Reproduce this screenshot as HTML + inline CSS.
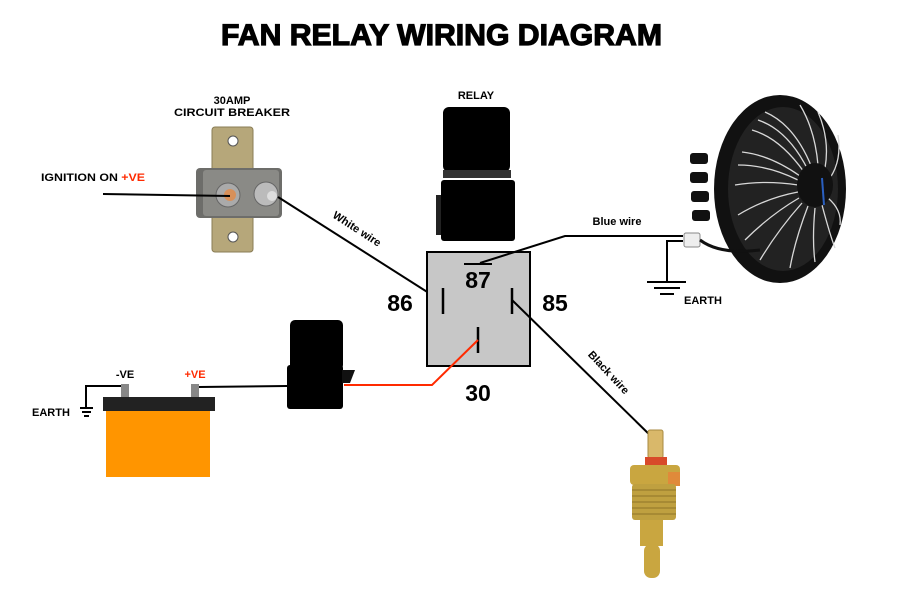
<!DOCTYPE html>
<html><head><meta charset="utf-8"><style>
html,body{margin:0;padding:0;background:#fff;}
svg{display:block;}
text{font-family:"Liberation Sans",sans-serif;font-weight:bold;}
</style></head><body>
<svg width="900" height="600" viewBox="0 0 900 600" xmlns="http://www.w3.org/2000/svg">
<rect width="900" height="600" fill="#fff"/>
<text x="221" y="45" font-size="30" textLength="441" lengthAdjust="spacingAndGlyphs" stroke="#000" stroke-width="1.2">FAN RELAY WIRING DIAGRAM</text>

<!-- circuit breaker -->
<text x="232" y="104" font-size="11" text-anchor="middle">30AMP</text>
<text x="232" y="116" font-size="11" text-anchor="middle" textLength="116" lengthAdjust="spacingAndGlyphs">CIRCUIT BREAKER</text>
<rect x="212" y="127" width="41" height="125" rx="3" fill="#b6a77a" stroke="#8a7d55"/>
<circle cx="233" cy="141" r="5" fill="#fff" stroke="#555"/>
<circle cx="233" cy="237" r="5" fill="#fff" stroke="#555"/>
<rect x="196" y="168" width="86" height="50" rx="4" fill="#6d6d6a"/>
<rect x="203" y="170" width="76" height="46" rx="3" fill="#8a8a86"/>
<circle cx="228" cy="195" r="12" fill="#aaa" stroke="#666"/>
<circle cx="230" cy="195" r="6" fill="#d8905a"/>
<circle cx="266" cy="194" r="12" fill="#bbb" stroke="#666"/>
<circle cx="272" cy="196" r="5" fill="#ddd"/>

<text x="41" y="181" font-size="11" textLength="104" lengthAdjust="spacingAndGlyphs">IGNITION ON <tspan fill="#ff2a00">+VE</tspan></text>
<line x1="103" y1="194" x2="230" y2="196" stroke="#000" stroke-width="2"/>

<!-- white wire -->
<line x1="278" y1="197" x2="443" y2="302" stroke="#000" stroke-width="2"/>
<text x="355" y="232" font-size="11" transform="rotate(33 355 232)" text-anchor="middle">White wire</text>

<!-- relay -->
<text x="476" y="99" font-size="11" text-anchor="middle">RELAY</text>
<rect x="443" y="107" width="67" height="65" rx="6" fill="#000"/>
<rect x="443" y="170" width="68" height="8" fill="#333"/>
<rect x="441" y="180" width="74" height="61" rx="3" fill="#000"/>
<rect x="436" y="195" width="5" height="40" fill="#222"/>

<rect x="427" y="252" width="103" height="114" fill="#c7c7c7" stroke="#000" stroke-width="2"/>
<line x1="443" y1="288" x2="443" y2="314" stroke="#000" stroke-width="2.5"/>
<line x1="512" y1="288" x2="512" y2="314" stroke="#000" stroke-width="2.5"/>
<line x1="478" y1="327" x2="478" y2="353" stroke="#000" stroke-width="2.5"/>
<line x1="464" y1="264" x2="492" y2="264" stroke="#000" stroke-width="2"/>
<text x="478" y="288" font-size="23" text-anchor="middle">87</text>
<text x="400" y="311" font-size="23" text-anchor="middle">86</text>
<text x="555" y="311" font-size="23" text-anchor="middle">85</text>
<text x="478" y="401" font-size="23" text-anchor="middle">30</text>

<!-- blue wire -->
<polyline points="480,263 565,236 683,236" fill="none" stroke="#000" stroke-width="2"/>
<text x="617" y="225" font-size="11" text-anchor="middle">Blue wire</text>
<polyline points="683,241 667,241 667,282" fill="none" stroke="#000" stroke-width="2"/>
<line x1="647" y1="282" x2="686" y2="282" stroke="#000" stroke-width="2"/>
<line x1="654" y1="288" x2="680" y2="288" stroke="#000" stroke-width="2"/>
<line x1="660" y1="294" x2="674" y2="294" stroke="#000" stroke-width="2"/>
<text x="684" y="304" font-size="11">EARTH</text>

<!-- fan -->
<ellipse cx="780" cy="189" rx="66" ry="94" fill="#111"/>
<ellipse cx="783" cy="189" rx="55" ry="82" fill="#222"/>
<g stroke="#d8d8d8" stroke-width="1.3" fill="none">
<path d="M812 168 Q795 125 765 112"/><path d="M808 170 Q788 130 758 120"/><path d="M804 172 Q780 138 752 130"/>
<path d="M800 176 Q770 155 742 152"/><path d="M798 180 Q768 165 738 165"/><path d="M798 185 Q765 180 735 185"/>
<path d="M798 192 Q766 198 738 215"/><path d="M799 198 Q770 215 745 240"/><path d="M802 203 Q778 230 760 260"/>
<path d="M808 206 Q795 240 790 268"/><path d="M815 208 Q812 240 815 262"/><path d="M822 205 Q830 235 835 248"/>
<path d="M828 198 Q842 210 840 225"/><path d="M830 178 Q842 160 838 135"/><path d="M825 168 Q830 140 818 112"/>
<path d="M818 165 Q815 130 800 105"/>
</g>
<ellipse cx="815" cy="185" rx="18" ry="22" fill="#111"/>
<path d="M822 178 L824 205" stroke="#2a5fc0" stroke-width="2"/>
<rect x="690" y="153" width="18" height="11" rx="3" fill="#111"/>
<rect x="690" y="172" width="18" height="11" rx="3" fill="#111"/>
<rect x="691" y="191" width="18" height="11" rx="3" fill="#111"/>
<rect x="692" y="210" width="18" height="11" rx="3" fill="#111"/>
<rect x="684" y="233" width="16" height="14" rx="2" fill="#eee" stroke="#888"/>
<path d="M700 240 Q720 255 760 250" stroke="#111" stroke-width="3" fill="none"/>

<!-- black wire -->
<line x1="512" y1="300" x2="655" y2="440" stroke="#000" stroke-width="2"/>
<text x="606" y="375" font-size="11" transform="rotate(47 606 375)" text-anchor="middle">Black wire</text>

<!-- sensor -->
<rect x="648" y="430" width="15" height="28" rx="2" fill="#d9b86a" stroke="#a88a40"/>
<rect x="645" y="457" width="22" height="8" fill="#d84a2a"/>
<rect x="630" y="465" width="50" height="20" rx="4" fill="#c9a640"/>
<rect x="668" y="472" width="12" height="14" fill="#e08a3a"/>
<rect x="632" y="484" width="44" height="36" rx="3" fill="#bfa040"/>
<g stroke="#8f7428" stroke-width="1"><line x1="632" y1="490" x2="676" y2="490"/><line x1="632" y1="496" x2="676" y2="496"/><line x1="632" y1="502" x2="676" y2="502"/><line x1="632" y1="508" x2="676" y2="508"/><line x1="632" y1="514" x2="676" y2="514"/></g>
<rect x="640" y="520" width="23" height="26" fill="#c9a640"/>
<rect x="644" y="544" width="16" height="34" rx="7" fill="#c9a640"/>

<!-- red wire -->
<polyline points="478,340 432,385 344,385" fill="none" stroke="#ff2a00" stroke-width="2"/>

<!-- fuse holder -->
<rect x="290" y="320" width="53" height="50" rx="5" fill="#000"/>
<rect x="287" y="365" width="56" height="44" rx="3" fill="#000"/>
<polygon points="342,370 355,370 350,383 342,383" fill="#111"/>

<!-- battery -->
<line x1="199" y1="387" x2="287" y2="386" stroke="#000" stroke-width="2"/>
<polyline points="125,386 86,386 86,408" fill="none" stroke="#000" stroke-width="2"/>
<line x1="80" y1="408" x2="93" y2="408" stroke="#000" stroke-width="2"/>
<line x1="82" y1="412" x2="91" y2="412" stroke="#000" stroke-width="2"/>
<line x1="84" y1="416" x2="89" y2="416" stroke="#000" stroke-width="2"/>
<text x="32" y="416" font-size="11">EARTH</text>
<text x="125" y="378" font-size="11" text-anchor="middle">-VE</text>
<text x="195" y="378" font-size="11" text-anchor="middle" fill="#ff2a00">+VE</text>
<rect x="121" y="384" width="8" height="14" fill="#888"/>
<rect x="191" y="384" width="8" height="14" fill="#888"/>
<rect x="103" y="397" width="112" height="14" fill="#222"/>
<rect x="106" y="411" width="104" height="66" fill="#ff9500"/>
</svg>
</body></html>
